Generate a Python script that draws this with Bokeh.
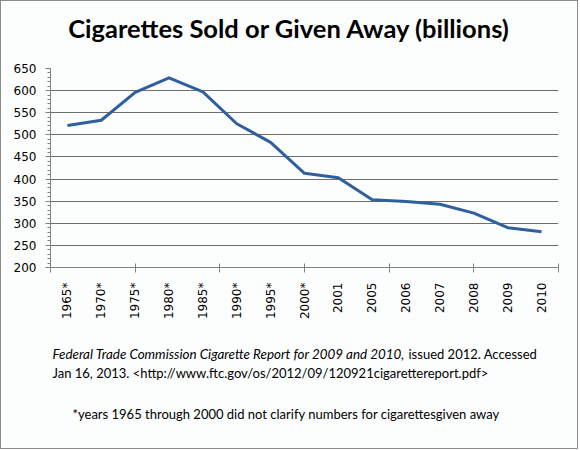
from bokeh.plotting import figure
from bokeh.models import FixedTicker, Label, Range1d
from bokeh.embed import file_html
from bokeh.resources import INLINE
import math

# Cigarettes sold or given away, billions
years = ["1965*", "1970*", "1975*", "1980*", "1985*", "1990*", "1995*", "2000*",
         "2001", "2005", "2006", "2007", "2008", "2009", "2010"]
cigarettes = [521, 533, 596, 629, 597, 525, 483, 413, 403, 353, 349, 343, 323, 290, 281]
y_ticks = [200, 250, 300, 350, 400, 450, 500, 550, 600, 650]

W, H = 578, 449
LEFT, RIGHT, TOP, BOTTOM = 49, 21, 67, 183

x_pos = list(range(1, len(years) + 1))

p = figure(width=W, height=H, output_backend="svg", toolbar_location=None,
           x_range=Range1d(0.5, len(years) + 0.5), y_range=Range1d(200, 650),
           min_border_left=LEFT, min_border_right=RIGHT,
           min_border_top=TOP, min_border_bottom=BOTTOM,
           background_fill_color="#fcfdfd", border_fill_color="#fcfdfd")
p.styles = {"border": "1px solid #8c8c8c"}
p.outline_line_color = None

p.line(x_pos, cigarettes, line_color="#2f5f9c", line_width=3, line_join="round")

# x axis: category labels, separator ticks every 2.5 categories
p.xaxis.ticker = FixedTicker(ticks=x_pos, minor_ticks=[0.5, 3, 5.5, 8, 10.5, 13, 15.5])
p.xaxis.major_label_overrides = {i: lab for i, lab in zip(x_pos, years)}
p.xaxis.major_label_orientation = math.pi / 2
p.xaxis.major_tick_in = 0
p.xaxis.major_tick_out = 0
p.xaxis.minor_tick_in = 4
p.xaxis.minor_tick_out = 5
p.xaxis.minor_tick_line_color = "#808080"
p.xaxis.major_label_standoff = 10
p.xaxis.axis_line_color = "#808080"

# y axis
p.yaxis.ticker = FixedTicker(ticks=y_ticks, minor_ticks=list(range(200, 651, 10)))
p.yaxis.major_tick_in = 0
p.yaxis.major_tick_out = 5
p.yaxis.minor_tick_in = 0
p.yaxis.minor_tick_out = 3
p.yaxis.major_tick_line_color = "#808080"
p.yaxis.minor_tick_line_color = "#808080"
p.yaxis.axis_line_color = "#808080"
p.yaxis.major_label_standoff = 9

for ax in (p.xaxis, p.yaxis):
    ax.major_label_text_font = "DejaVu Sans"
    ax.major_label_text_font_size = "12px"
    ax.major_label_text_color = "black"

p.xgrid.grid_line_color = None
p.ygrid.grid_line_color = "#6e6e6e"
p.ygrid.grid_line_width = 1


# Each label sits in its own side panel stacked under the x axis; panel_bottom
# is the canvas y of that panel's bottom edge (label y grows upwards from it).
def panel_label(x, y, panel_bottom, text, size, style="normal", align="left", font="Lato"):
    return Label(x=x - LEFT, y=panel_bottom - y, x_units="screen", y_units="screen",
                 text=text, text_font=font, text_font_size=size, text_font_style=style,
                 text_align=align, text_baseline="middle", text_color="black")


labels = [
    panel_label(288, 30, 355, "Cigarettes Sold or Given Away (billions)", "25.5px", "bold", "center"),
    panel_label(51, 352, 367, "Federal Trade Commission  Cigarette Report for 2009 and  2010,", "13.4px", "italic"),
    panel_label(407, 352, 383, "issued 2012. Accessed", "13px"),
    panel_label(51, 370, 398, "Jan 16, 2013. <http://www.ftc.gov/os/2012/09/120921cigarettereport.pdf>", "13px"),
    panel_label(71, 412, 415, "*years 1965 through 2000 did not clarify numbers for cigarettesgiven away", "13px"),
]
for lab in labels:
    p.add_layout(lab, "below")

open("out.html", "w").write(file_html(p, INLINE))
